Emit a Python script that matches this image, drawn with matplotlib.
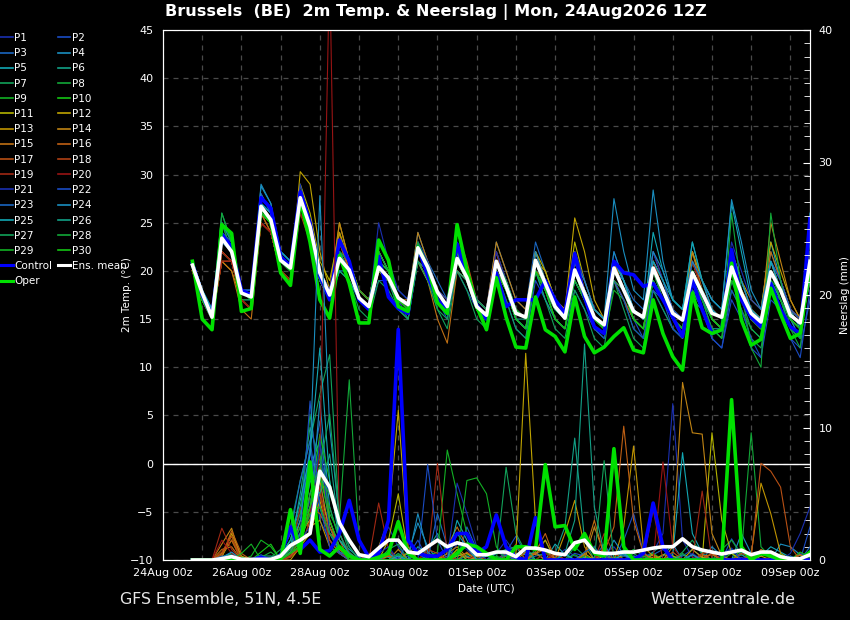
import matplotlib
matplotlib.use('Agg')
import matplotlib.pyplot as plt
import matplotlib.dates as mdates
from matplotlib.lines import Line2D
from matplotlib.ticker import MultipleLocator, FixedLocator
from datetime import datetime, timedelta

# 6-hourly steps from 24Aug 18z to 09Sep 12z
run_start = datetime(2026, 8, 24, 18)
times = [run_start + timedelta(hours=6 * i) for i in range(64)]

member_names = ['P%d' % i for i in range(1, 31)]
member_colors = ['#1a2fb0', '#1a4cc4', '#1a66c0', '#1a8ec0', '#12a8b4',
                 '#12a086', '#12a25a', '#12a838', '#12b024', '#14c414',
                 '#b4b400', '#c0a400', '#c09400', '#c08414', '#c07014',
                 '#c06014', '#b85014', '#b04014', '#a02814', '#981414']
member_colors = member_colors + member_colors[:10]

# 2m temperature (°C), one row per member
member_temp = [
    [21, 17, 15, 23, 22, 18, 17, 27, 26, 21, 20, 28, 25, 20, 18, 22, 20, 17, 16, 21, 20, 17, 16, 23, 21, 18, 17, 22, 20, 17, 16, 22,
     19, 16, 15, 22, 19, 16, 15, 21, 18, 15, 14, 22, 19, 16, 15, 20, 18, 15, 14, 19, 17, 15, 14, 21, 18, 16, 14, 20, 18, 15, 13, 22],
    [20, 17, 15, 22, 21, 17, 17, 26, 25, 21, 20, 27, 24, 19, 17, 20, 19, 17, 16, 19, 19, 17, 15, 21, 19, 17, 15, 20, 18, 16, 15, 19,
     17, 14, 13, 19, 17, 15, 14, 18, 16, 14, 13, 19, 17, 15, 13, 18, 16, 14, 13, 18, 16, 13, 12, 17, 15, 12, 11, 19, 16, 13, 12, 17],
    [21, 18, 16, 24, 22, 18, 18, 28, 26, 22, 21, 28, 25, 20, 18, 23, 21, 18, 17, 22, 20, 18, 17, 24, 21, 19, 17, 23, 20, 17, 16, 23,
     20, 17, 16, 23, 20, 17, 16, 22, 19, 16, 15, 21, 19, 17, 16, 22, 19, 16, 15, 21, 18, 16, 15, 22, 19, 16, 15, 22, 19, 16, 15, 23],
    [21, 18, 15, 24, 22, 18, 17, 29, 27, 21, 20, 28, 25, 20, 17, 21, 20, 17, 16, 21, 19, 17, 16, 22, 20, 17, 16, 22, 19, 16, 15, 21,
     18, 16, 15, 22, 19, 16, 15, 21, 18, 16, 15, 27.5, 22, 18, 17, 28.4, 21, 17, 16, 23, 19, 17, 16, 21, 18, 15, 14, 20, 17, 15, 13, 20],
    [21, 18, 16, 25, 23, 18, 18, 27, 26, 22, 21, 27, 24, 19, 17, 20, 19, 17, 16, 20, 19, 17, 16, 22, 20, 17, 16, 21, 19, 16, 15, 20,
     18, 15, 14, 21, 18, 16, 15, 20, 18, 15, 14, 20, 18, 16, 15, 24, 20, 17, 16, 22, 19, 17, 16, 27, 22, 17, 16, 23, 19, 16, 14, 21],
    [21, 17, 15, 26, 23, 18, 17, 26, 25, 21, 20, 27, 24, 19, 17, 21, 20, 17, 16, 20, 19, 16, 15, 22, 20, 17, 16, 21, 19, 16, 15, 21,
     18, 15, 15, 20, 18, 16, 15, 19, 17, 15, 14, 19, 17, 15, 14, 19, 17, 15, 14, 18, 17, 14, 14, 19, 17, 15, 14, 19, 17, 15, 14, 20],
    [21, 17, 15, 24, 22, 18, 17, 26, 25, 21, 20, 27, 24, 19, 17, 20, 19, 16, 15, 19, 18, 16, 15, 21, 19, 16, 14, 20, 18, 15, 14, 20,
     17, 14, 13, 20, 17, 14, 13, 18, 16, 13, 12, 19, 16, 13, 12, 18, 16, 14, 13, 18, 16, 14, 13, 19, 16, 13, 12, 18, 17, 14, 13, 20],
    [21, 17, 15, 25, 22, 17, 17, 26, 25, 21, 20, 28, 25, 20, 18, 22, 21, 18, 17, 22, 20, 17, 16, 23, 21, 18, 16, 22, 20, 17, 16, 22,
     19, 16, 15, 21, 19, 16, 15, 20, 18, 15, 14, 21, 19, 16, 15, 21, 18, 16, 15, 19, 18, 15, 14, 20, 18, 16, 15, 21, 19, 16, 15, 22],
    [21, 18, 16, 24, 22, 18, 17, 26, 25, 21, 20, 29, 25, 20, 17, 21, 20, 17, 16, 20, 19, 17, 16, 22, 20, 17, 16, 21, 19, 16, 15, 20,
     18, 15, 14, 20, 18, 15, 14, 19, 17, 14, 13, 18, 17, 14, 13, 19, 17, 15, 13, 17, 16, 14, 13, 18, 16, 14, 13, 18, 17, 15, 14, 19],
    [21, 17, 15, 23, 22, 18, 17, 27, 25, 21, 20, 28, 24, 20, 17, 21, 20, 17, 16, 21, 20, 17, 16, 22, 20, 17, 16, 21, 19, 16, 15, 21,
     18, 16, 15, 21, 18, 16, 15, 20, 17, 15, 14, 20, 18, 15, 14, 20, 18, 15, 14, 20, 18, 15, 14, 20, 17, 15, 14, 19, 18, 15, 14, 21],
    [20, 17, 15, 22, 21, 17, 16, 26, 25, 21, 20, 29, 26, 21, 19, 24, 21, 18, 17, 21, 20, 17, 16, 21, 19, 17, 16, 20, 19, 16, 15, 20,
     18, 16, 15, 22, 20, 17, 16, 23, 19, 16, 15, 21, 18, 16, 15, 20, 18, 16, 15, 20, 18, 16, 15, 21, 18, 15, 14, 20, 18, 15, 14, 21],
    [20, 17, 15, 22, 21, 17, 16, 26, 24, 20, 19, 30.3, 29, 22, 18, 25, 21, 18, 17, 22, 20, 17, 16, 22, 20, 17, 16, 22, 19, 17, 16, 21,
     19, 16, 15, 21, 20, 17, 16, 25.5, 22, 17, 15, 21, 19, 16, 15, 21, 19, 16, 15, 21, 18, 16, 15, 22, 19, 17, 16, 23, 20, 17, 15, 21],
    [20, 17, 15, 21, 20, 17, 16, 25, 24, 20, 19, 28, 25, 20, 17, 24, 20, 17, 16, 20, 19, 17, 16, 21, 19, 17, 16, 22, 19, 16, 15, 21,
     18, 16, 15, 20, 19, 16, 15, 22, 18, 16, 15, 21, 19, 16, 15, 21, 18, 16, 15, 22, 19, 16, 15, 21, 18, 16, 15, 21, 18, 16, 15, 20],
    [20, 17, 15, 22, 21, 17, 16, 25, 24, 20, 19, 27, 24, 19, 17, 25, 21, 18, 17, 22, 20, 17, 17, 24, 21, 18, 17, 22, 19, 17, 16, 23,
     20, 17, 16, 22, 19, 17, 16, 21, 18, 16, 15, 21, 18, 16, 15, 21, 19, 16, 15, 22, 18, 16, 15, 20, 18, 16, 15, 25, 21, 17, 15, 22],
    [20, 17, 15, 21, 20, 16, 15, 25, 24, 20, 19, 28, 25, 20, 18, 23, 20, 17, 16, 20, 19, 17, 16, 21, 19, 15, 12.5, 20, 19, 16, 15, 20,
     18, 16, 15, 20, 18, 16, 15, 21, 18, 16, 15, 21, 18, 16, 15, 21, 18, 15, 13, 20, 18, 16, 15, 21, 18, 16, 15, 22, 19, 16, 15, 21],
    [20, 17, 15, 22, 21, 17, 16, 26, 24, 20, 19, 27, 24, 19, 17, 23, 20, 17, 16, 21, 19, 17, 16, 22, 20, 17, 16, 21, 19, 17, 16, 22,
     18, 16, 15, 21, 19, 16, 15, 20, 18, 15, 14, 19, 17, 15, 14, 20, 17, 15, 14, 21, 18, 15, 14, 20, 17, 15, 14, 20, 18, 15, 14, 19],
    [20, 17, 15, 21, 21, 17, 16, 25, 24, 20, 19, 27, 24, 19, 17, 22, 20, 17, 16, 21, 20, 17, 16, 23, 20, 17, 16, 24, 21, 17, 16, 21,
     19, 16, 15, 21, 18, 16, 15, 20, 17, 15, 14, 19, 18, 15, 14, 20, 18, 16, 15, 21, 19, 16, 15, 22, 19, 16, 15, 21, 18, 16, 15, 20],
    [20, 17, 15, 21, 21, 17, 16, 25, 24, 20, 19, 26, 23, 19, 17, 21, 20, 17, 16, 20, 19, 17, 16, 21, 20, 17, 16, 21, 19, 17, 16, 20,
     18, 16, 15, 20, 18, 16, 15, 21, 19, 16, 15, 21, 19, 16, 15, 20, 18, 16, 15, 20, 18, 16, 15, 21, 18, 16, 15, 21, 18, 16, 15, 21],
    [20, 17, 15, 21, 21, 17, 16, 25, 24, 20, 19, 27, 24, 19, 17, 21, 20, 17, 16, 22, 20, 17, 16, 21, 20, 17, 16, 22, 20, 17, 16, 22,
     19, 16, 15, 21, 19, 16, 15, 20, 18, 16, 15, 20, 18, 16, 15, 22, 19, 16, 15, 21, 19, 16, 15, 21, 19, 16, 15, 21, 19, 16, 15, 20],
    [20, 17, 15, 22, 21, 17, 16, 25, 24, 20, 19, 26, 24, 19, 17, 22, 20, 17, 16, 21, 19, 17, 16, 22, 20, 17, 16, 21, 19, 16, 15, 21,
     18, 16, 15, 20, 18, 15, 14, 20, 17, 15, 14, 20, 18, 15, 14, 21, 18, 16, 15, 21, 18, 15, 14, 20, 18, 15, 14, 20, 18, 15, 14, 21],
    [21, 18, 16, 24, 22, 18, 18, 28, 26, 22, 21, 29, 25, 20, 18, 23, 21, 17, 16, 25, 21, 18, 17, 23, 21, 18, 17, 22, 20, 17, 16, 22,
     19, 16, 15, 21, 19, 16, 15, 22, 19, 16, 15, 21, 19, 16, 15, 22, 19, 16, 15, 21, 19, 16, 15, 23, 20, 17, 16, 21, 19, 16, 15, 22],
    [21, 17, 15, 23, 22, 18, 17, 27, 26, 21, 20, 28, 25, 20, 17, 22, 20, 17, 16, 21, 20, 17, 16, 22, 20, 17, 16, 21, 19, 16, 15, 21,
     18, 15, 14, 20, 18, 15, 14, 19, 17, 14, 13, 19, 17, 14, 13, 18, 17, 14, 13, 17, 16, 13, 12, 18, 16, 13, 11, 17, 16, 13, 11, 18],
    [21, 18, 16, 24, 23, 18, 18, 28, 26, 21, 20, 28, 25, 20, 17, 22, 21, 17, 16, 21, 20, 17, 16, 22, 20, 17, 16, 21, 20, 17, 16, 21,
     19, 16, 15, 21, 18, 16, 15, 21, 18, 16, 15, 20, 19, 16, 15, 21, 19, 16, 15, 20, 18, 16, 15, 22, 19, 16, 15, 21, 19, 16, 15, 24],
    [21, 18, 15, 24, 22, 18, 17, 28.8, 27, 22, 21, 28, 25, 20, 17, 20, 20, 17, 16, 21, 20, 17, 16, 22, 20, 17, 16, 22, 19, 17, 16, 21,
     19, 16, 15, 22, 19, 16, 15, 21, 19, 16, 15, 22, 19, 16, 15, 22, 20, 17, 16, 21, 19, 17, 16, 27.4, 23, 18, 16, 21, 18, 15, 14, 26],
    [21, 18, 16, 24, 22, 18, 17, 27, 26, 22, 21, 28, 24, 19, 17, 21, 20, 17, 16, 21, 20, 17, 16, 22, 20, 17, 16, 22, 19, 16, 15, 21,
     18, 16, 15, 21, 19, 16, 15, 20, 18, 16, 15, 21, 19, 16, 15, 21, 19, 17, 16, 23, 19, 16, 15, 22, 19, 16, 15, 21, 18, 15, 14, 21],
    [21, 17, 15, 25, 23, 18, 17, 26, 25, 21, 20, 27, 24, 19, 17, 22, 20, 17, 16, 22, 20, 17, 16, 21, 20, 17, 16, 20, 19, 16, 15, 20,
     18, 15, 14, 20, 17, 15, 14, 19, 17, 15, 14, 20, 18, 15, 14, 19, 17, 15, 14, 19, 17, 15, 14, 20, 17, 15, 14, 19, 17, 15, 14, 19],
    [21, 17, 15, 25, 22, 18, 17, 26, 25, 21, 20, 27, 24, 19, 17, 21, 20, 17, 16, 21, 19, 16, 15, 21, 19, 16, 15, 21, 19, 16, 15, 21,
     18, 15, 14, 20, 18, 15, 14, 20, 17, 15, 14, 19, 18, 15, 14, 20, 17, 15, 14, 20, 17, 15, 14, 20, 17, 14, 13, 20, 17, 14, 13, 20],
    [21, 17, 15, 26, 23, 18, 17, 26, 25, 21, 20, 28, 25, 20, 17, 22, 21, 18, 17, 22, 20, 17, 16, 23, 20, 17, 16, 22, 20, 17, 16, 21,
     19, 16, 15, 21, 18, 16, 15, 20, 18, 15, 14, 20, 18, 15, 14, 20, 17, 15, 14, 19, 17, 14, 13, 26, 18, 12, 10, 26, 19, 14, 12, 21],
    [21, 17, 15, 24, 22, 18, 17, 26, 25, 21, 20, 28, 25, 20, 17, 21, 20, 17, 16, 20, 19, 17, 16, 22, 20, 17, 16, 21, 19, 16, 15, 21,
     18, 16, 15, 20, 18, 15, 14, 19, 17, 15, 14, 20, 18, 15, 14, 19, 17, 15, 14, 20, 18, 15, 14, 19, 17, 15, 14, 20, 17, 15, 14, 20],
    [21, 17, 15, 24, 22, 18, 17, 26, 25, 21, 20, 28, 25, 20, 17, 21, 20, 17, 16, 21, 20, 17, 16, 22, 20, 17, 16, 21, 19, 16, 15, 20,
     18, 15, 14, 20, 18, 15, 14, 20, 17, 15, 14, 20, 18, 15, 14, 20, 18, 15, 14, 20, 18, 15, 14, 20, 18, 15, 14, 20, 18, 15, 14, 21],
]

# precipitation (mm per 6h), one row per member
member_prec = [
    [0, 0, 0, 0.2, 0.3, 0, 0, 0, 0, 0, 0.5, 2.0, 4.5, 6.0, 2.0, 1.0, 0.5, 0, 0, 0.8, 2.5, 1.0, 0, 0, 0.3, 0.6, 0, 1.2, 0.8, 0, 0, 0.5,
     1.5, 0.4, 0, 0, 0, 0.2, 0.8, 0.3, 0, 0, 0.5, 1.0, 0, 0, 0.2, 0.6, 2.0, 11.8, 1.5, 0.2, 0, 0, 0.4, 0.9, 0, 0.3, 0, 0, 0, 0, 0.5, 0.2],
    [0, 0, 0, 0, 0.2, 0, 0, 0.1, 0, 0.3, 1.0, 3.5, 8.5, 3.0, 1.5, 0.5, 0, 0, 0.2, 0, 0, 0, 0.3, 1.5, 0, 0, 0, 0.4, 0.2, 0, 0, 0,
     0.6, 1.8, 0.4, 0, 0, 0, 0, 0.5, 0.3, 0, 0, 0, 1.5, 3.5, 0.6, 0, 0, 0, 0.3, 0.8, 0.2, 0, 0, 1.6, 0.4, 0, 0, 0, 0, 0, 0, 2.5],
    [0, 0, 0, 0.1, 0.4, 0, 0, 0, 0, 0.5, 2.0, 1.5, 6.0, 10.5, 3.0, 1.0, 0.3, 0, 0, 0, 0.6, 0.2, 0, 0, 0, 3.5, 1.0, 0, 2.5, 0.8, 0, 0,
     0, 0, 0, 0.3, 0.5, 0, 0, 0, 0, 0.2, 1.2, 0, 0, 0, 0, 0.4, 0.8, 0.3, 0, 0, 0, 0, 0, 0, 0.6, 0.2, 0, 0, 0, 0.3, 0, 1.0],
    [0, 0, 0, 0.2, 0.5, 0, 0, 0, 0, 0, 0.8, 2.5, 3.0, 12.0, 4.0, 1.5, 0.8, 0.2, 0, 0, 0, 0, 0.5, 2.8, 1.0, 0, 0, 0, 0.3, 0, 0, 0,
     0, 0.5, 0.4, 0.6, 0, 0, 0, 0, 0, 0, 0, 0.2, 0, 0, 0, 0, 0.3, 1.2, 0, 0.4, 0, 1.0, 0.3, 0, 2.0, 0.5, 0, 0, 1.2, 1.0, 0.4, 0],
    [0, 0, 0, 0, 0.2, 0, 0, 0, 0, 0.3, 1.5, 4.0, 7.0, 9.0, 2.5, 0.6, 0, 0, 0, 0.4, 0.2, 0, 0, 1.0, 0.5, 0, 0, 0, 0, 0, 0.3, 0,
     0.4, 0, 0, 0, 0, 1.2, 0.4, 0, 0.2, 0, 0, 0.5, 0.6, 0, 0, 0, 0, 0.4, 8.1, 2.0, 0.5, 0, 0, 0, 0, 0, 0.3, 1.0, 0.6, 0.2, 0, 0],
    [0, 0, 0, 0.1, 0.1, 0, 0, 0, 0, 0, 1.0, 5.0, 10.0, 7.5, 3.0, 1.0, 0.2, 0, 0, 0, 0, 0, 0, 0.5, 0.8, 2.0, 0.5, 0, 0, 0, 0, 0.5,
     0.8, 1.0, 0, 0, 0, 0.5, 2.5, 9.2, 1.5, 0, 0, 0, 0, 0, 0, 0.6, 1.2, 0, 0, 0, 0, 0, 0, 0, 0.4, 0, 0, 0, 0, 0, 0, 0.3],
    [0, 0, 0, 0.2, 0.3, 0, 0, 0, 0.2, 0.8, 2.5, 6.0, 9.0, 12.5, 15.5, 3.0, 0.5, 0, 0, 0, 0.8, 1.2, 0, 0, 0, 0, 0, 0.6, 0, 0, 0, 0,
     7.0, 2.0, 0.6, 0, 0, 0, 0, 1.0, 0.3, 0, 0, 0, 0, 0.5, 0, 0, 0, 0, 0.6, 1.5, 0.4, 0, 0, 0, 0, 0, 0, 0, 0.5, 0, 0, 0],
    [0, 0, 0, 0, 0.5, 0.2, 0, 0, 0, 0.4, 1.5, 3.5, 11.0, 6.0, 4.0, 1.5, 0.6, 0, 0, 0, 0.3, 0, 0, 0, 0, 0, 0, 0, 0.4, 0.3, 0, 0,
     0, 0, 0, 0.8, 1.5, 0, 0, 0, 0, 0, 0, 0, 0.3, 0.8, 0.3, 0, 0, 0, 0.5, 0, 0.2, 0, 0.8, 1.5, 0.4, 9.6, 1.0, 0.2, 0, 0, 0, 0],
    [0, 0, 0, 0, 0.1, 0, 0.3, 1.5, 1.0, 0, 0.5, 2.0, 5.0, 8.0, 3.5, 2.0, 0.4, 0, 0, 0.2, 0.5, 0, 0, 0, 0.3, 0.6, 8.3, 5.0, 2.0, 0, 0, 0,
     0, 0, 0, 0, 0, 0, 0, 0.4, 0, 0, 0, 0, 0.8, 0, 0, 0, 0, 0.2, 0, 0, 0, 0, 0, 0.5, 0, 0, 0, 0, 0.2, 0, 0, 0],
    [0, 0, 0, 0, 0, 0, 0, 0.6, 1.2, 0, 0.3, 1.5, 4.0, 9.5, 6.0, 2.0, 0.3, 0, 0, 0, 0, 0.4, 0, 0, 0, 0, 0, 0.8, 0, 0, 0.4, 0.2,
     0, 0, 0, 0, 0.6, 0, 0, 0, 0.3, 0, 0, 0, 0, 0, 0, 0.5, 0, 0, 0, 0, 0, 0, 0, 0, 0.8, 0.3, 0, 0, 0, 0, 0.6, 0.2],
    [0, 0, 0, 0.3, 1.5, 0, 0, 0, 0, 0, 0.6, 2.0, 3.0, 5.0, 2.5, 1.0, 0.2, 0, 0, 0, 1.5, 5.0, 0.5, 0, 0, 0, 0, 0.3, 0.5, 0, 0, 0,
     0, 0, 0, 0, 0, 0.5, 0, 0, 0, 0, 0.3, 0.6, 0, 0, 0, 0, 0.4, 0.3, 0, 0, 0, 9.6, 3.0, 0.5, 0, 0, 0, 0, 0, 0, 0.4, 0],
    [0, 0, 0, 0.2, 2.0, 0.3, 0, 0, 0, 0, 0, 1.0, 2.0, 4.5, 1.5, 0.5, 0, 0, 0, 1.0, 3.0, 11.3, 1.0, 0, 0, 0, 0.5, 0, 0, 0, 0, 0,
     0, 0.5, 15.6, 3.0, 0, 0, 0, 0, 0.5, 0, 0, 0, 0.4, 0, 0, 0.2, 0, 0, 0, 0.8, 0.2, 0, 0, 0, 0, 0, 0.3, 0, 0, 0, 0, 0],
    [0, 0, 0, 0.5, 1.8, 0, 0, 0, 0, 0.2, 0.5, 3.0, 2.5, 3.0, 1.0, 0.5, 0, 0, 0, 0, 0.3, 0, 0.6, 0, 0, 0, 0, 0.8, 0, 0.3, 0, 0,
     0, 0, 0.6, 0.4, 1.5, 0, 2.0, 4.5, 1.0, 0, 0, 0, 2.5, 8.6, 1.0, 0.3, 0, 0, 0, 0, 0, 0.5, 0, 0, 0, 0.4, 5.8, 3.5, 0.5, 0, 0, 0],
    [0, 0, 0, 1.2, 2.4, 0, 0, 0, 0, 0, 0.5, 1.5, 3.5, 6.0, 2.0, 1.0, 0.5, 0, 0, 0, 0, 0.8, 0, 0, 0, 0, 0.5, 1.0, 0.2, 0, 0, 0,
     0, 0, 0, 0.5, 0.8, 0, 0, 0, 0, 2.5, 0.5, 0, 0, 0, 0, 0.4, 0, 1.0, 13.4, 9.6, 9.5, 2.0, 0.3, 0, 0, 0, 0, 0.2, 0, 0, 0, 0],
    [0, 0, 0, 0.8, 1.0, 0, 0, 0.2, 0, 0, 0.4, 1.0, 5.0, 7.0, 3.0, 0.8, 0, 0, 0, 0, 0.4, 0, 0, 0, 0, 0, 1.0, 2.5, 1.0, 0, 0, 0,
     0.3, 0, 0, 0.5, 0, 0, 0, 0, 0.4, 3.0, 0.3, 0, 0, 0, 0.5, 0, 0, 0, 0, 0, 0.3, 0.4, 0, 0, 0, 0, 0.8, 0.4, 0, 0, 0, 0],
    [0, 0, 0, 0.3, 2.2, 0.5, 0, 0, 0, 0, 0.3, 1.2, 4.0, 3.5, 2.0, 1.5, 0, 0, 0, 0.3, 0.3, 0, 0, 0, 0, 0, 0, 0, 0.6, 0, 0, 0,
     0, 0, 0, 0.6, 2.0, 0, 0, 0, 0, 0, 0.6, 2.5, 10.1, 3.0, 0.5, 0, 0, 0, 0, 0, 0, 0.5, 0, 0, 0, 0, 0, 0, 0.2, 0, 0.4, 0],
    [0, 0, 0, 0.4, 1.5, 0, 0, 0, 0, 0, 0.3, 0.8, 3.0, 4.0, 2.5, 1.0, 0, 0, 0, 0.2, 0, 0, 0, 0, 0, 0, 0.3, 0, 0, 0, 0, 0,
     0.5, 0, 0, 0, 0, 0.4, 0, 0, 0, 0, 1.0, 0, 0, 0, 0, 0, 0, 0.6, 0, 0, 0.4, 0, 0, 0, 0.5, 0.2, 7.3, 6.7, 5.5, 1.0, 0, 0],
    [0, 0, 0, 0.6, 1.8, 0, 0, 0, 0, 0, 0.2, 1.0, 6.5, 5.0, 1.5, 0.5, 0, 0, 0.5, 0, 0, 0, 0, 0, 0.8, 0.5, 0, 0, 0, 0, 0, 0,
     0, 1.2, 0, 0, 0, 0, 0, 0, 0, 0, 0, 0, 0, 0, 0, 0, 0, 0, 0, 0, 0.5, 0.6, 0, 0, 0, 0.4, 0, 0, 0, 0, 0, 0],
    [0, 0, 0, 2.4, 0.8, 0, 0, 0, 0, 0, 0.5, 4.0, 2.0, 5.5, 1.0, 0.5, 0.2, 0, 0, 4.3, 0.8, 0, 0, 0, 0, 7.3, 0.5, 0, 0, 0, 0, 0,
     0, 0, 0, 0, 0, 0.6, 0, 0, 0, 0, 2.0, 0.5, 0, 0, 0, 3.8, 0, 0, 0, 0, 5.2, 0, 0, 0, 0, 0, 0, 0, 0, 0, 0, 0],
    [0, 0, 0, 1.5, 0.5, 0, 0, 0, 0, 0, 0.4, 2.0, 3.5, 8.0, 45.0, 2.0, 0.5, 0, 0, 0, 0, 0, 0, 0, 0.6, 0, 0, 0, 0, 0.4, 0, 0,
     0, 0, 0, 0, 0.5, 0, 0, 0, 0, 0, 0, 0, 0, 0, 0, 0, 7.4, 1.0, 0, 0, 0, 0, 0, 0, 0, 0, 0, 0, 0, 0, 0, 0],
    [0, 0, 0, 0, 0.3, 0, 0, 0, 0, 0.5, 3.5, 1.5, 2.5, 9.0, 2.0, 1.0, 0, 0, 0, 0.5, 1.0, 0, 0, 0, 0, 0, 0, 5.8, 3.5, 1.0, 0, 0,
     0, 0, 0, 0, 0, 0, 0, 0, 0, 0, 0, 0, 0, 0.3, 0, 0, 0, 0, 0, 0.5, 0, 0, 0, 0, 0.2, 0, 0, 0, 0, 0.5, 2.0, 4.0],
    [0, 0, 0, 0, 0, 0, 0, 0.4, 0, 0.3, 1.0, 2.0, 12.0, 4.0, 1.0, 0.5, 0, 0, 0.3, 0, 0.5, 0, 0, 0, 7.2, 1.5, 0, 0, 0, 0, 0.4, 0,
     0.4, 0, 0, 0, 0, 0, 0, 0, 0, 0, 0, 0.6, 0.3, 0, 0, 0, 0, 0, 0, 0, 0, 0, 0, 0.8, 0, 0, 0, 0, 0, 0, 0, 0],
    [0, 0, 0, 0.3, 0.2, 0, 0, 0, 0, 0.5, 2.0, 6.0, 9.0, 4.0, 2.0, 0.6, 0.3, 0, 0, 0, 0, 0, 1.5, 0.5, 0, 0, 0, 0, 0, 0, 0, 0.6,
     0.3, 0, 0, 0, 0, 0, 0, 0, 0.6, 1.0, 0, 0, 0, 0.3, 0, 0, 0, 0, 0, 0, 0, 0, 0, 0, 0, 0, 0, 0, 0.3, 0, 0, 0],
    [0, 0, 0, 0.2, 0.6, 0, 0, 0, 0, 0, 1.0, 3.0, 8.0, 27.5, 10.0, 3.0, 1.0, 0, 0, 0, 0.5, 0, 0, 3.5, 0.6, 0, 0, 2.0, 1.0, 0, 0, 0,
     0, 0, 0, 0, 0, 0, 0.5, 0, 0, 0, 0, 1.5, 0.4, 0, 0, 0, 0, 0, 0, 0.4, 0, 0, 0, 0, 0, 0, 0, 0, 0, 0, 0, 0],
    [0, 0, 0, 0.1, 0.3, 0, 0, 0, 0, 0.3, 1.5, 4.5, 8.0, 16.0, 6.0, 1.5, 0.5, 0, 0, 0, 0, 0.3, 0, 0, 0, 0, 0, 3.0, 1.5, 0, 0, 0,
     0, 0, 0, 0, 0, 0, 0.5, 0, 0, 0, 0, 0, 0.5, 0, 0, 0, 0, 0, 0, 0, 0, 0, 0, 0, 0, 0, 0, 0, 0.2, 0, 0, 0],
    [0, 0, 0, 0, 0, 0, 0, 0.3, 0.3, 0, 0.6, 2.0, 6.0, 5.0, 8.0, 2.0, 0.4, 0, 0, 0, 0, 0, 0, 0, 0, 0, 0, 0, 0, 0, 0, 0,
     0, 0, 1.0, 0, 0, 0, 0.5, 3.0, 16.3, 4.0, 0.5, 0, 0, 0, 0, 0, 0, 0, 0.4, 0, 0, 0, 0, 0, 0, 0, 0, 0, 0, 0, 0, 0],
    [0, 0, 0, 0, 0, 0.2, 0, 0, 0, 0, 0.5, 1.0, 5.0, 7.0, 11.0, 3.0, 1.0, 0, 0, 0, 0, 0.5, 0, 0, 0, 0, 0, 0, 0, 0, 0, 0,
     0, 0, 0, 0, 0, 0, 0, 0, 0, 0, 7.5, 0, 0, 0, 0, 0, 0, 0, 0, 0, 0, 0, 0, 0, 0, 0, 0, 0, 0, 0, 0, 0],
    [0, 0, 0, 0, 0, 0, 0, 0.2, 0.6, 0, 0.8, 2.5, 4.0, 6.0, 5.0, 3.0, 13.6, 1.5, 0, 0, 0, 0, 0, 0, 0, 0, 0, 0, 0, 0, 0, 0.3,
     0, 0, 0, 0, 0, 0, 0, 0, 0, 0, 0, 0, 0, 0, 0.3, 0, 0, 0, 0, 0, 0, 0, 0, 0, 0, 0, 0, 0, 0, 0, 0, 0],
    [0, 0, 0, 0, 0, 0.5, 1.2, 0, 0, 0, 0.5, 1.5, 3.5, 4.0, 2.0, 1.0, 0, 0, 0, 0, 0, 0, 0, 0, 0, 0, 0, 0, 6.0, 6.2, 5.0, 1.0,
     0, 0, 0, 0, 0, 0, 0, 0, 0, 0, 0, 0, 0, 0, 0, 0, 0, 0, 0, 0, 0, 0, 0, 0, 0, 0, 0, 0, 0, 0, 0, 0.3],
    [0, 0, 0, 0, 0, 0, 0, 0, 0, 0, 0.5, 1.0, 4.0, 6.5, 3.0, 1.0, 0, 0, 0, 0, 0, 0, 0, 0, 0, 0, 0, 0, 0, 0, 0, 0,
     0, 0, 0, 0, 0, 0, 0, 0, 0, 0, 0, 0, 0, 0, 0, 0, 0, 0, 0, 0, 0, 0, 0, 0, 0, 0, 0, 0, 0.4, 0, 0, 0],
]

control_temp = [20.8, 17.5, 15.3, 23.8, 22.5, 18.0, 17.5, 27.6, 26.5, 21.5, 20.5, 28.2, 25.0, 19.5, 17.0, 23.2,
                21.0, 17.0, 16.0, 21.5, 17.3, 16.1, 15.6, 22.5, 19.5, 17.0, 16.0, 22.8, 19.5, 16.5, 15.0, 19.8,
                16.3, 17.0, 17.0, 17.0, 19.0, 17.0, 15.6, 21.8, 17.3, 14.2, 13.5, 21.0, 19.8, 19.6, 18.4, 18.7,
                17.0, 15.2, 13.2, 19.1, 16.0, 13.5, 13.9, 22.2, 17.0, 15.2, 14.2, 18.7, 16.0, 14.2, 13.5, 25.5]
control_prec = [0, 0, 0, 0, 0, 0, 0, 0.2, 0, 0.3, 2.5, 0.8, 1.5, 0.6, 0.7, 2.0,
                4.5, 1.5, 0.2, 0.5, 3.0, 17.4, 1.5, 0.5, 0.3, 0.3, 0.8, 2.0, 2.0, 0.5, 1.0, 3.4,
                1.0, 0.2, 0, 3.2, 0, 0, 0, 0, 0, 0, 0, 0, 0, 0, 0.5, 4.3,
                1.0, 0, 0, 0, 0, 0, 0, 0, 0, 0, 0, 0, 0, 0, 0, 0]

oper_temp = [21.0, 15.0, 13.9, 24.8, 23.9, 15.8, 16.1, 26.7, 25.1, 19.8, 18.5, 27.4, 23.0, 17.0, 15.1, 21.6,
             18.7, 14.6, 14.6, 23.2, 21.1, 16.3, 15.8, 22.5, 20.4, 16.7, 15.6, 24.8, 20.1, 16.3, 13.9, 19.3,
             15.2, 12.1, 12.0, 17.3, 13.9, 13.2, 11.6, 17.3, 13.2, 11.5, 12.1, 13.2, 14.1, 11.8, 11.5, 17.0,
             13.5, 11.1, 9.7, 17.7, 14.1, 13.5, 13.9, 20.8, 14.9, 12.3, 12.9, 18.2, 15.5, 13.0, 13.5, 20.5]
oper_prec = [0, 0, 0, 0, 0, 0, 0, 0, 0, 0, 3.8, 0.5, 7.4, 0.8, 0.3, 1.0,
             0.3, 0, 0, 0.2, 0.5, 2.9, 0.5, 0, 0, 0, 0, 0.5, 1.2, 1.0, 0.5, 0,
             0, 1.0, 1.0, 0.8, 7.2, 2.5, 2.6, 0.8, 2.0, 0.5, 0.3, 8.4, 1.0, 0, 0, 0,
             0, 0, 0, 0, 0, 0, 0, 12.1, 1.0, 0, 0.5, 0.3, 0, 0, 0, 0.6]

mean_temp = [20.6, 17.7, 15.2, 23.4, 22.0, 17.7, 17.3, 26.7, 25.3, 21.1, 20.3, 27.6, 24.6, 19.8, 17.5, 21.3,
             20.1, 17.2, 16.3, 20.4, 19.3, 17.2, 16.5, 22.4, 20.4, 17.8, 16.3, 21.3, 19.3, 16.3, 15.4, 21.0,
             18.4, 15.6, 15.2, 21.1, 18.7, 16.3, 15.1, 20.1, 17.7, 15.2, 14.4, 20.3, 18.0, 15.8, 15.2, 20.3,
             18.0, 15.6, 14.9, 19.8, 17.7, 15.6, 15.2, 20.4, 17.7, 15.6, 14.7, 19.9, 18.0, 15.4, 14.6, 21.0]
mean_prec = [0, 0, 0, 0.1, 0.25, 0.05, 0.05, 0.05, 0.05, 0.3, 1.1, 1.5, 2.0, 6.7, 5.5, 2.8,
             1.5, 0.4, 0.25, 0.9, 1.5, 1.5, 0.6, 0.5, 1.0, 1.5, 1.0, 1.3, 1.1, 0.4, 0.4, 0.6,
             0.6, 0.25, 0.9, 0.9, 0.75, 0.5, 0.4, 1.3, 1.5, 0.6, 0.5, 0.5, 0.6, 0.6, 0.75, 0.9,
             1.0, 1.0, 1.6, 1.0, 0.75, 0.6, 0.45, 0.6, 0.75, 0.4, 0.6, 0.6, 0.25, 0.1, 0.1, 0.4]

title = 'Brussels  (BE)  2m Temp. & Neerslag | Mon, 24Aug2026 12Z'

fig = plt.figure(figsize=(8.5, 6.2), dpi=100, facecolor='black')
ax = fig.add_axes([163 / 850, 60 / 620, 647 / 850, 530 / 620])
ax.set_facecolor('black')
ax2 = ax.twinx()

# temperature spaghetti
for temps, col in zip(member_temp, member_colors):
    ax.plot(times, temps, color=col, lw=0.8)
ax.plot(times, control_temp, color='#0000ff', lw=2.6)
ax.plot(times, oper_temp, color='#00e000', lw=2.6)
ax.plot(times, mean_temp, color='white', lw=2.6)
ax.axhline(0, color='white', lw=1)

# precipitation spaghetti on the right axis
for prec, col in zip(member_prec, member_colors):
    ax2.plot(times, prec, color=col, lw=0.8)
ax2.plot(times, control_prec, color='#0000ff', lw=2.6)
ax2.plot(times, oper_prec, color='#00e000', lw=2.6)
ax2.plot(times, mean_prec, color='white', lw=2.6)

ax.set_xlim(datetime(2026, 8, 24), datetime(2026, 9, 9, 12))
ax.set_ylim(-10, 45)
ax2.set_ylim(0, 40)

major_days = [datetime(2026, 8, 24) + timedelta(days=2 * k) for k in range(9)]
all_days = [datetime(2026, 8, 24) + timedelta(days=k) for k in range(17)]
ax.xaxis.set_major_locator(FixedLocator(mdates.date2num(major_days)))
ax.xaxis.set_minor_locator(FixedLocator(mdates.date2num(all_days)))
ax.xaxis.set_major_formatter(mdates.DateFormatter('%d%b %Hz'))
ax.yaxis.set_major_locator(MultipleLocator(5))
ax2.yaxis.set_major_locator(MultipleLocator(10))
ax2.yaxis.set_minor_locator(MultipleLocator(1))

grid_kw = dict(color='#4a4a4a', linestyle=(0, (4, 4)), linewidth=0.9)
ax.xaxis.grid(True, which='both', **grid_kw)
ax.yaxis.grid(True, which='major', **grid_kw)
ax.set_axisbelow(True)

ax.tick_params(axis='both', which='both', length=0, colors='white', labelsize=8)
ax.tick_params(axis='y', pad=7)
ax.tick_params(axis='x', pad=6)
ax2.tick_params(axis='y', which='major', direction='in', length=5, colors='white', labelsize=8, pad=6)
ax2.tick_params(axis='y', which='minor', direction='in', length=4, colors='white')

for a in (ax, ax2):
    for sp in a.spines.values():
        sp.set_color('white')

ax.set_ylabel('2m Temp. (°C)', color='white', fontsize=7.5)
ax.yaxis.set_label_coords((132 - 163) / 647, 0.5)
ax2.set_ylabel('Neerslag (mm)', color='white', fontsize=7.5)
ax2.yaxis.set_label_coords((840 - 163) / 647, 0.5)
ax.set_xlabel('Date (UTC)', color='white', fontsize=7.5, labelpad=4)

fig.text(436 / 850, 1 - 12 / 620, title, ha='center', va='center',
         fontsize=11.6, fontweight='bold', color='white')
fig.text(120 / 850, 1 - 599 / 620, 'GFS Ensemble, 51N, 4.5E', ha='left', va='center',
         fontsize=11.4, color='#e6e6e6')
fig.text(650 / 850, 1 - 599 / 620, 'Wetterzentrale.de', ha='left', va='center',
         fontsize=11.5, color='#e6e6e6')

# legend: P1/P2 row-wise, then Control / Ens. mean, then Oper
col1 = [(member_names[i], member_colors[i], 1.2) for i in range(0, 30, 2)]
col1 += [('Control', '#0000ff', 2.2), ('Oper', '#00e000', 2.2)]
col2 = [(member_names[i], member_colors[i], 1.2) for i in range(1, 30, 2)]
col2 += [('Ens. mean', 'white', 2.2)]
entries = col1 + col2
handles = [Line2D([], [], color=c, lw=w) for _, c, w in entries]
labels = [n for n, _, _ in entries]
fig.legend(handles, labels, loc='upper left', bbox_to_anchor=(0.0, 1 - 33 / 620),
           ncol=2, frameon=False, fontsize=7.5, labelcolor='white',
           handlelength=1.2, handletextpad=0.15, columnspacing=0.55,
           labelspacing=0.5, borderaxespad=0, borderpad=0)

fig.savefig('out.png', dpi=100, facecolor='black')
